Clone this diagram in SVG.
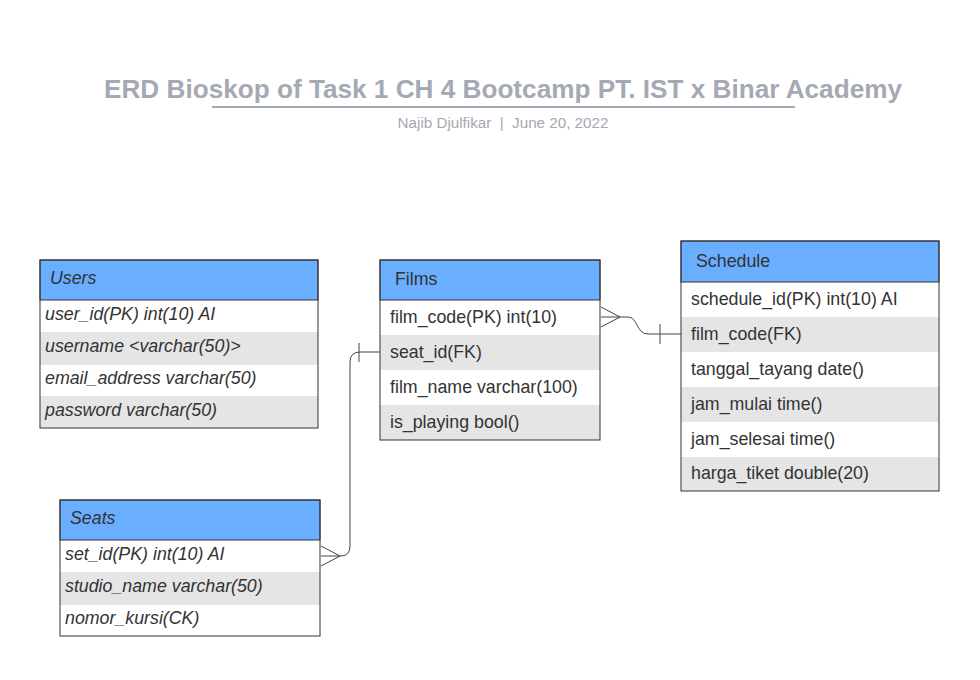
<svg xmlns="http://www.w3.org/2000/svg" width="980" height="680" viewBox="0 0 980 680">
<style>
.hdr{fill:#6aaeff;stroke:#333;stroke-width:1}
.box{fill:none;stroke:#333;stroke-width:1}
.g{fill:#e5e5e5}
.w{fill:#ffffff}
.t{font-family:"Liberation Sans",Arial,sans-serif;font-size:17.8px;fill:#333}
.i{font-style:italic}
.c{fill:none;stroke:#444;stroke-width:1}
</style>
<rect width="980" height="680" fill="#fff"/>
<g id="title">
<text x="503" y="98" text-anchor="middle" font-family="'Liberation Sans',Arial,sans-serif" font-weight="bold" font-size="26" fill="#a4a9b3" textLength="798" lengthAdjust="spacingAndGlyphs">ERD Bioskop of Task 1 CH 4 Bootcamp PT. IST x Binar Academy</text>
<line x1="212" y1="107" x2="795" y2="107" stroke="#a4a9b3" stroke-width="2"/>
<text x="503" y="128" text-anchor="middle" font-family="'Liberation Sans',Arial,sans-serif" font-size="15.2" fill="#a4a9b3" xml:space="preserve">Najib Djulfikar  |  June 20, 2022</text>
</g>
<g id="users">
<rect class="w" x="40" y="300" width="278" height="32"/>
<rect class="g" x="40" y="332" width="278" height="33"/>
<rect class="w" x="40" y="365" width="278" height="31"/>
<rect class="g" x="40" y="396" width="278" height="32"/>
<rect class="hdr" x="40" y="260" width="278" height="40"/>
<rect class="box" x="40" y="260" width="278" height="168"/>
<text class="t i" x="50" y="284">Users</text>
<text class="t i" x="45" y="320">user_id(PK) int(10) AI</text>
<text class="t i" x="45" y="352">username &lt;varchar(50)&gt;</text>
<text class="t i" x="45" y="384">email_address varchar(50)</text>
<text class="t i" x="45" y="416">password varchar(50)</text>
</g>
<g id="films">
<rect class="w" x="380" y="300" width="220" height="35"/>
<rect class="g" x="380" y="335" width="220" height="35"/>
<rect class="w" x="380" y="370" width="220" height="35"/>
<rect class="g" x="380" y="405" width="220" height="35"/>
<rect class="hdr" x="380" y="260" width="220" height="40"/>
<rect class="box" x="380" y="260" width="220" height="180"/>
<text class="t" x="395" y="285">Films</text>
<text class="t" x="390" y="322.5">film_code(PK) int(10)</text>
<text class="t" x="390" y="357.5">seat_id(FK)</text>
<text class="t" x="390" y="392.5">film_name varchar(100)</text>
<text class="t" x="390" y="427.5">is_playing bool()</text>
</g>
<g id="schedule">
<rect class="w" x="681" y="282" width="258" height="35"/>
<rect class="g" x="681" y="317" width="258" height="35"/>
<rect class="w" x="681" y="352" width="258" height="35"/>
<rect class="g" x="681" y="387" width="258" height="35"/>
<rect class="w" x="681" y="422" width="258" height="35"/>
<rect class="g" x="681" y="457" width="258" height="34"/>
<rect class="hdr" x="681" y="241" width="258" height="41"/>
<rect class="box" x="681" y="241" width="258" height="250"/>
<text class="t" x="696" y="267">Schedule</text>
<text class="t" x="691" y="304.5">schedule_id(PK) int(10) AI</text>
<text class="t" x="691" y="339.5">film_code(FK)</text>
<text class="t" x="691" y="374.5">tanggal_tayang date()</text>
<text class="t" x="691" y="409.5">jam_mulai time()</text>
<text class="t" x="691" y="444.5">jam_selesai time()</text>
<text class="t" x="691" y="479">harga_tiket double(20)</text>
</g>
<g id="seats">
<rect class="w" x="60" y="540" width="260" height="32"/>
<rect class="g" x="60" y="572" width="260" height="33"/>
<rect class="w" x="60" y="605" width="260" height="31"/>
<rect class="hdr" x="60" y="500" width="260" height="40"/>
<rect class="box" x="60" y="500" width="260" height="136"/>
<text class="t i" x="70" y="524">Seats</text>
<text class="t i" x="65" y="560">set_id(PK) int(10) AI</text>
<text class="t i" x="65" y="592">studio_name varchar(50)</text>
<text class="t i" x="65" y="624">nomor_kursi(CK)</text>
</g>
<g id="connectors">
<path class="c" d="M601 317 L628 317 C638 317 636 334 648 334 L681 334"/>
<path class="c" d="M601 307 L620 317 L601 327"/>
<line class="c" x1="660" y1="324" x2="660" y2="344"/>
<path class="c" d="M321 556 L341 556 Q350 556 350 546 L350 362 Q350 352 360 352 L380 352"/>
<path class="c" d="M321 546 L340 556 L321 566"/>
<line class="c" x1="359" y1="343" x2="359" y2="362"/>
</g>
</svg>
